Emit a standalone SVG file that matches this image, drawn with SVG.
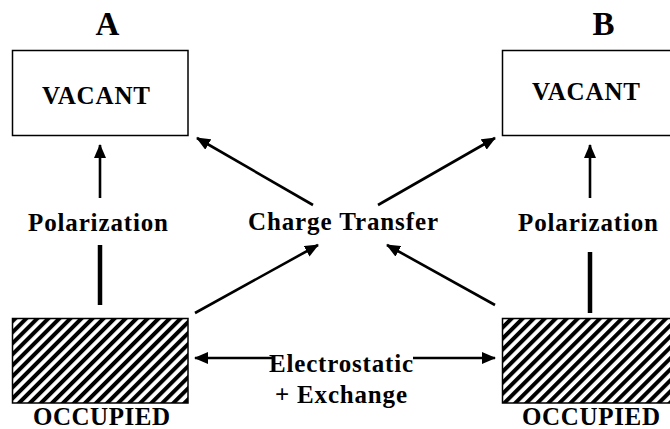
<svg xmlns="http://www.w3.org/2000/svg" width="670" height="429" viewBox="0 0 670 429">
<defs>
<style>
text{fill:#000;text-anchor:middle}
.big{font-size:33px}
.lbl{font-size:25px}
.box{fill:#fff;stroke:#000;stroke-width:1.5}
.hbox{fill:url(#hatch);stroke:#000;stroke-width:1.5}
.ln{stroke:#000;stroke-width:2.6;fill:none}
.thick{stroke:#000;stroke-width:4.5;fill:none}
</style>
<pattern id="hatch" patternUnits="userSpaceOnUse" width="7.8" height="7.8" patternTransform="rotate(45)">
<rect x="0" y="0" width="7.8" height="7.8" fill="#fff"/>
<rect x="0" y="0" width="4" height="7.8" fill="#000"/>
</pattern>
<marker id="ah" markerUnits="userSpaceOnUse" markerWidth="14" markerHeight="12" refX="13" refY="6" orient="auto">
<path d="M0,0 L14,6 L0,12 Z" fill="#000"/>
</marker>
<marker id="ahs" markerUnits="userSpaceOnUse" markerWidth="14" markerHeight="12" refX="1" refY="6" orient="auto">
<path d="M14,0 L0,6 L14,12 Z" fill="#000"/>
</marker>
</defs>
<rect width="670" height="429" fill="#fff"/>

<g id="labelA"><text class="big" x="107.5" y="35" font-family="Liberation Serif" font-weight="bold">A</text></g>
<g id="labelB"><text class="big" x="603.5" y="35" font-family="Liberation Serif" font-weight="bold">B</text></g>

<g id="vacantA">
<rect class="box" x="12.5" y="50.5" width="175.5" height="85"/>
<text class="lbl" x="96" y="104" font-family="Liberation Serif" font-weight="bold" textLength="108" lengthAdjust="spacing">VACANT</text>
</g>
<g id="vacantB">
<rect class="box" x="502.5" y="50.5" width="180" height="85"/>
<text class="lbl" x="586" y="100" font-family="Liberation Serif" font-weight="bold" textLength="108" lengthAdjust="spacing">VACANT</text>
</g>
<g id="occupiedA">
<rect class="hbox" x="12.5" y="318.5" width="175.5" height="84.5"/>
<text class="lbl" x="101.5" y="425" font-family="Liberation Serif" font-weight="bold" textLength="137" lengthAdjust="spacing">OCCUPIED</text>
</g>
<g id="occupiedB">
<rect class="hbox" x="502.5" y="318.5" width="180" height="84.5"/>
<text class="lbl" x="591" y="425" font-family="Liberation Serif" font-weight="bold" textLength="138" lengthAdjust="spacing">OCCUPIED</text>
</g>

<g id="labels">
<text class="lbl" x="98" y="231" font-family="Liberation Serif" font-weight="bold" textLength="140" lengthAdjust="spacing">Polarization</text>
<text class="lbl" x="588" y="231" font-family="Liberation Serif" font-weight="bold" textLength="140" lengthAdjust="spacing">Polarization</text>
<text class="lbl" x="343" y="230" font-family="Liberation Serif" font-weight="bold" textLength="190" lengthAdjust="spacing">Charge Transfer</text>
<text class="lbl" x="341" y="372" font-family="Liberation Serif" font-weight="bold" textLength="144" lengthAdjust="spacing">Electrostatic</text>
<text class="lbl" x="341" y="403" font-family="Liberation Serif" font-weight="bold" textLength="132" lengthAdjust="spacing">+ Exchange</text>
</g>

<g id="connectors">
<line class="ln" x1="100" y1="198" x2="100" y2="145" marker-end="url(#ah)"/>
<line class="ln" x1="590" y1="198" x2="590" y2="145" marker-end="url(#ah)"/>
<line class="thick" x1="100" y1="245" x2="100" y2="305"/>
<line class="thick" x1="590" y1="252" x2="590" y2="313"/>
<line class="ln" x1="313" y1="205" x2="197" y2="138" marker-end="url(#ah)"/>
<line class="ln" x1="378" y1="205" x2="495" y2="138" marker-end="url(#ah)"/>
<line class="ln" x1="195" y1="313" x2="318" y2="245" marker-end="url(#ah)"/>
<line class="ln" x1="495" y1="305" x2="387" y2="245" marker-end="url(#ah)"/>
<line class="ln" x1="195" y1="358" x2="272" y2="358" marker-start="url(#ahs)"/>
<line class="ln" x1="413" y1="358" x2="495" y2="358" marker-end="url(#ah)"/>
</g>
</svg>
